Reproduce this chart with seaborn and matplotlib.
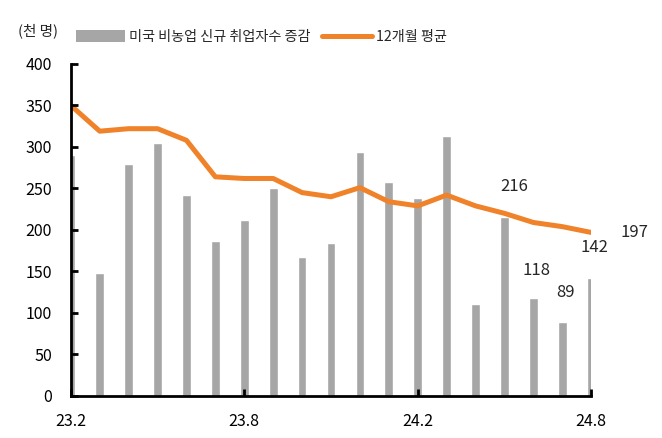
import numpy as np
import pandas as pd
import seaborn as sns
import matplotlib.pyplot as plt
from matplotlib.patches import Patch
from matplotlib.lines import Line2D

months = ["23.2", "23.3", "23.4", "23.5", "23.6", "23.7", "23.8", "23.9", "23.10",
          "23.11", "23.12", "24.1", "24.2", "24.3", "24.4", "24.5", "24.6", "24.7", "24.8"]
payrolls = [290, 148, 280, 305, 242, 187, 212, 250, 168, 184, 294, 258, 239, 313, 111,
            216, 118, 89, 142]
avg_12m = [350, 319, 322, 322, 308, 264, 262, 262, 245, 240, 251, 234, 229, 242, 229,
           220, 209, 204, 197]
shown_ticks = ["23.2", "23.8", "24.2", "24.8"]

bar_color = "#A6A6A6"
line_color = "#F0822A"

sns.set_theme(style="white")
plt.rcParams["font.family"] = ["Noto Sans CJK KR", "DejaVu Sans"]

df = pd.DataFrame({"month": months, "payrolls": payrolls, "avg": avg_12m})
df["pos"] = np.arange(len(df))

fig = plt.figure(figsize=(6.62, 4.38), dpi=100)
ax = fig.add_axes([0.107, 0.096, 0.786, 0.758])

sns.barplot(data=df, x="month", y="payrolls", color=bar_color, width=0.3,
            saturation=1, ax=ax)
sns.lineplot(data=df, x="pos", y="avg", color=line_color, linewidth=3.6, ax=ax)

ax.set_xlim(0, len(months) - 1)
ax.set_ylim(0, 400)
ax.set_yticks(range(0, 401, 50))
tick_pos = [months.index(m) for m in shown_ticks]
ax.set_xticks(tick_pos)
ax.set_xticklabels(shown_ticks)
ax.set(xlabel=None, ylabel=None)
ax.set_axisbelow(False)

for side in ["top", "right"]:
    ax.spines[side].set_visible(False)
for side in ["left", "bottom"]:
    ax.spines[side].set_color("black")
    ax.spines[side].set_linewidth(2.0)
ax.tick_params(axis="both", direction="in", length=5, width=2, colors="black",
               labelsize=11.5, labelcolor="black", left=True, bottom=True)
ax.tick_params(axis="x", pad=12)
ax.tick_params(axis="y", pad=13.5)

# value labels for the last few months
label_offsets = {15: (7, 22), 16: (2, 20), 17: (2, 21), 18: (2, 22)}
for i, (dx, dy) in label_offsets.items():
    ax.annotate(str(payrolls[i]), (i, payrolls[i]), xytext=(dx, dy),
                textcoords="offset points", ha="center", va="center",
                fontsize=12, annotation_clip=False)
ax.annotate(str(avg_12m[-1]), (len(months) - 1, avg_12m[-1]), xytext=(31, 0),
            textcoords="offset points", ha="center", va="center",
            fontsize=12, annotation_clip=False)

fig.text(0.027, 0.93, "(천 명)", fontsize=10.5, ha="left", va="center")

handles = [Patch(facecolor=bar_color, edgecolor="none"),
           Line2D([0], [0], color=line_color, linewidth=3.6)]
fig.legend(handles, ["미국 비농업 신규 취업자수 증감", "12개월 평균"], ncol=2,
           loc="center left", bbox_to_anchor=(0.095, 0.915), frameon=False,
           fontsize=10.2, handlelength=3.5, handleheight=0.9, handletextpad=0.3,
           columnspacing=0.8)

fig.savefig("out.png", dpi=100)
